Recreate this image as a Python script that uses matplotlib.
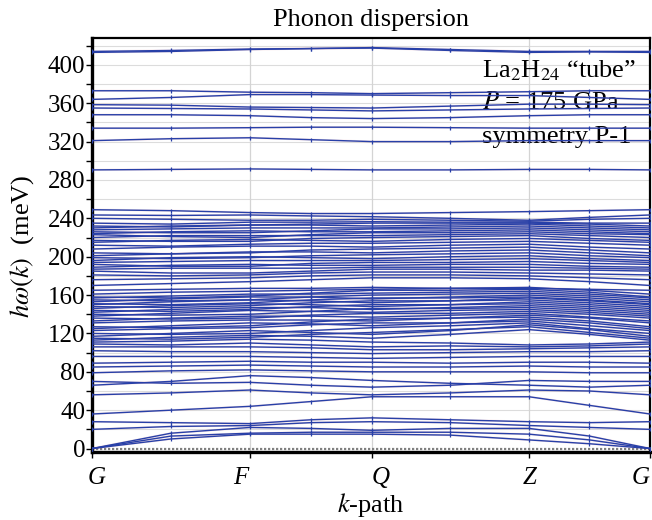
import matplotlib
matplotlib.use('Agg')
import matplotlib.pyplot as plt
import matplotlib.transforms as mtrans

plt.rcParams['font.family'] = ['Liberation Serif', 'DejaVu Serif']
plt.rcParams['mathtext.fontset'] = 'stix'

# k-path: high-symmetry nodes and midpoints (path distance units)
k_points = [0.0, 0.5, 1.0, 1.386, 1.772, 2.269, 2.766, 3.149, 3.532]
k_nodes = [0.0, 1.0, 1.772, 2.766, 3.532]
k_labels = ['G', 'F', 'Q', 'Z', 'G']

# energies (meV) at each k-point: G, mid, F, mid, Q, mid, Z, mid, G
upper_bands = [
    [413, 414, 416, 417, 417.5, 415, 413, 413.5, 413],
    [414, 415, 416.5, 417, 418, 416, 414, 414, 414],
    [373, 373, 371.5, 371, 370, 371, 372, 373, 373],
    [364, 366, 369, 369, 368.5, 368, 368, 366, 364],
    [358.5, 358, 356, 355.5, 355, 357, 359, 359, 358.5],
    [355, 354.5, 354, 353, 352, 353, 354, 354.5, 355],
    [348, 348, 347, 345, 344, 345, 347, 348, 348],
    [334, 334, 334.5, 335, 335, 334.5, 334, 334, 334],
    [321, 323, 324, 322, 320, 320, 321, 321, 321],
    [290.5, 291, 291.5, 291, 290.5, 290.5, 291, 291, 290.5],
]

low_bands = [
    [0, 10, 15, 15, 15, 14, 9, 5, 0],
    [0, 13, 16, 17, 17, 17, 15, 9, 0],
    [0, 16, 22, 21, 19, 21, 21, 13, 0],
    [20, 23, 24, 27, 28, 27, 24, 22, 20],
    [28, 27, 26, 30, 32, 30, 28, 27, 28],
    [36, 40, 44, 49, 54, 54, 54, 45, 36],
    [56, 58, 61, 58, 56, 58, 61, 60, 56],
    [66, 70, 76, 74, 71, 68, 66, 64, 66],
    [70, 68, 69, 66, 64, 66, 71, 70, 70],
    [79, 81, 82, 81, 80, 80, 80, 79, 79],
    [85, 86, 87, 86, 85, 85, 86, 85, 85],
    [89, 90, 91, 90, 90, 89, 90, 90, 89],
    [96, 96, 96, 95, 94, 95, 96, 96, 96],
    [102, 101, 101, 100, 99, 100, 101, 101, 102],
    [106, 106, 106, 105, 103, 103, 104, 105, 106],
    [109, 108, 110, 108, 106, 107, 106, 107, 109],
]

dense_bands_a = [
    [111, 112, 114, 113, 111, 110, 108, 109, 111],
    [113, 116, 118, 117, 115, 119, 124, 119, 113],
    [115, 114, 116, 119, 121, 124, 127, 121, 115],
    [117, 120, 123, 121, 119, 123, 129, 124, 117],
    [120, 119, 120, 123, 126, 128, 131, 125, 120],
    [123, 125, 126, 129, 131, 131, 133, 128, 123],
    [125, 128, 131, 130, 128, 131, 135, 131, 125],
    [127, 126, 128, 132, 135, 136, 137, 133, 127],
    [131, 133, 134, 134, 133, 136, 139, 136, 131],
    [133, 136, 138, 138, 137, 139, 141, 137, 133],
    [136, 135, 136, 139, 141, 141, 143, 140, 136],
    [138, 141, 144, 143, 142, 144, 145, 142, 138],
    [140, 139, 140, 143, 146, 146, 147, 144, 140],
    [142, 145, 147, 147, 145, 147, 149, 146, 142],
    [144, 143, 145, 148, 150, 150, 151, 148, 144],
    [146, 149, 151, 150, 148, 150, 153, 150, 146],
    [148, 147, 149, 152, 154, 154, 155, 152, 148],
    [150, 153, 155, 154, 152, 154, 157, 154, 150],
    [151, 150, 152, 155, 157, 157, 158, 155, 151],
    [153, 156, 158, 158, 156, 158, 160, 157, 153],
    [155, 154, 155, 158, 160, 161, 162, 159, 155],
    [157, 159, 161, 161, 162, 163, 164, 161, 157],
    [158, 157, 159, 162, 165, 165, 166, 163, 158],
    [161, 163, 164, 165, 166, 167, 168, 165, 161],
    [165, 166, 167, 167, 168, 167, 167, 166, 165],
]

dense_bands_b = [
    [170, 172, 174, 176, 178, 178, 177, 174, 170],
    [176, 177, 178, 180, 181, 181, 180, 178, 176],
    [181, 180, 181, 183, 184, 184, 183, 182, 181],
    [185, 183, 183, 185, 187, 187, 186, 186, 185],
    [187, 188, 188, 188, 189, 189, 189, 188, 187],
    [189, 191, 192, 191, 191, 192, 192, 190, 189],
    [192, 190, 190, 193, 194, 194, 195, 193, 192],
    [194, 195, 196, 196, 196, 197, 198, 196, 194],
    [196, 199, 200, 199, 198, 200, 201, 198, 196],
    [199, 198, 199, 201, 202, 203, 204, 201, 199],
    [201, 203, 205, 205, 204, 206, 207, 204, 201],
    [204, 203, 204, 207, 208, 209, 210, 207, 204],
    [208, 210, 211, 211, 210, 212, 213, 210, 208],
    [212, 211, 213, 214, 214, 215, 216, 214, 212],
    [215, 217, 218, 217, 216, 218, 219, 217, 215],
    [217, 216, 216, 219, 220, 221, 222, 219, 217],
    [220, 222, 222, 222, 222, 223, 224, 222, 220],
    [223, 221, 220, 223, 225, 225, 226, 224, 223],
    [224, 226, 227, 226, 226, 227, 228, 226, 224],
    [226, 225, 225, 227, 229, 229, 230, 228, 226],
    [228, 229, 230, 230, 230, 231, 232, 230, 228],
    [230, 232, 233, 233, 232, 233, 234, 232, 230],
    [232, 231, 233, 234, 235, 235, 235, 234, 232],
    [235, 234, 236, 236, 236.5, 236, 236, 235, 235],
    [240, 239, 238, 238, 239, 238, 237, 239, 240],
    [243.5, 243, 243.5, 242.5, 241.7, 240, 238, 241, 243.5],
    [249, 248, 246, 245, 245, 246, 247, 248, 249],
]

y_ticks = [0, 40, 80, 120, 160, 200, 240, 280, 320, 360, 400]

BLUE = '#2840a8'
RED = '#c8405a'

fig = plt.figure(figsize=(6.52, 5.2), dpi=100)
ax = fig.add_axes([92 / 652, 68 / 520, 558 / 652, 414 / 520])

for b in upper_bands + low_bands + dense_bands_a + dense_bands_b:
    ax.plot(k_points, b, color=RED, lw=1.6, alpha=0.12, zorder=3, solid_capstyle='butt')
    ax.plot(k_points, b, color=BLUE, lw=1.0, marker='|', ms=3.5, mew=0.9,
            zorder=4)

ax.axhline(0, color='#808080', lw=1.6, ls=(0, (1, 0.8)), zorder=2.5)

ax.set_xlim(k_nodes[0], k_nodes[-1])
ax.set_ylim(-3.6, 428)

# grid
for yv in range(20, 428, 20):
    ax.axhline(yv, color='#dcdcdc', lw=0.8, zorder=0)
for xv in k_nodes[1:-1]:
    ax.axvline(xv, color='#d4d4d4', lw=0.9, zorder=0)

ax.set_yticks(y_ticks)
ax.set_yticks(list(range(20, 428, 40)), minor=True)
ax.set_yticklabels([str(v) for v in y_ticks], fontsize=18)
ax.set_xticks(k_nodes)
ax.set_xticklabels([''] * len(k_nodes))
ax.tick_params(axis='y', which='both', direction='out', length=4, width=1, pad=1)
ax.tick_params(axis='x', direction='out', length=4, width=1, pad=6)

# k-point labels (italic), nudged like the reference
label_dx_px = [5, -9, 9, 1, -9]
base = mtrans.blended_transform_factory(ax.transData, ax.transAxes)
for kx, lab, dx in zip(k_nodes, k_labels, label_dx_px):
    tr = base + mtrans.ScaledTranslation(dx / 100, 0, fig.dpi_scale_trans)
    ax.text(kx, -0.062, lab, transform=tr, fontsize=18, fontstyle='italic',
            ha='center', va='center', clip_on=False)

for side in ['left', 'bottom']:
    ax.spines[side].set_linewidth(2.4)
for side in ['top', 'right']:
    ax.spines[side].set_linewidth(1.6)

fig.text(371 / 652, 1 - 20 / 520, 'Phonon dispersion', fontsize=19,
         ha='center', va='center')
fig.text(371 / 652, 1 - 505 / 520, '$k$-path', fontsize=19,
         ha='center', va='center')
fig.text(22 / 652, 1 - 246 / 520, r'$h\omega(k)$  (meV)', fontsize=19,
         ha='center', va='center', rotation=90)

ax.text(0.699, 393.5, 'La$_2$H$_{24}$ \u201ctube\u201d', fontsize=19,
        transform=ax.get_yaxis_transform(), ha='left', va='center', zorder=1)
ax.text(0.699, 360, '$P$ = 175 GPa', fontsize=19,
        transform=ax.get_yaxis_transform(), ha='left', va='center', zorder=1)
ax.text(0.699, 325, 'symmetry P-1', fontsize=19,
        transform=ax.get_yaxis_transform(), ha='left', va='center', zorder=1)

fig.savefig('out.png', dpi=100)
